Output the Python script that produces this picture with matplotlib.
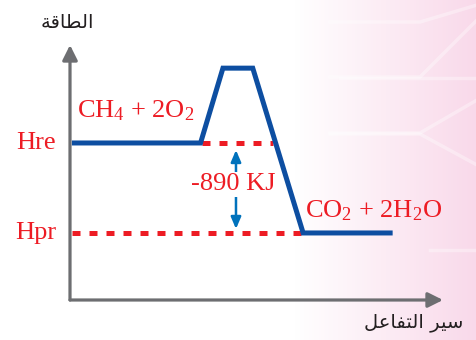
import matplotlib
matplotlib.use('Agg')
import matplotlib.pyplot as plt
import numpy as np

plt.rcParams['font.family'] = ['Liberation Serif', 'DejaVu Sans']
plt.rcParams['mathtext.fontset'] = 'custom'
plt.rcParams['mathtext.rm'] = 'Liberation Serif'
plt.rcParams['mathtext.it'] = 'Liberation Serif'

# 반응 경로 (진행도, 에너지 kJ)
progress = [0.05, 3.5, 4.1, 4.9, 6.25, 8.65]
energy = [0, 0, 740, 740, -890, -890]

H_re = 0
H_pr = -890
delta_H = H_pr - H_re
re_dash_x = [3.55, 5.45]
pr_dash_x = [0.05, 6.25]
arrow_x = 4.45

# 아랍어 레이블 (표시형 글자, 시각 순서)
y_label = '\ufe94\ufed7\ufe8e\ufec4\ufedf\ufe8d'
x_label = '\ufede\ufecb\ufe8e\ufed4\ufe98\ufedf\ufe8d \ufeae\ufef4\ufeb3'

RED = '#ed1c24'
BLUE = '#0d4ea1'
ARROW_BLUE = '#0072bc'
GRAY = '#6d6e71'

fig = plt.figure(figsize=(4.77, 3.40), dpi=100)

# 배경 (오른쪽 분홍 그라데이션)
bg = fig.add_axes([0, 0, 1, 1])
bg.set_xlim(0, 477)
bg.set_ylim(340, 0)
bg.axis('off')
grad = np.clip((np.linspace(0, 477, 477) - 295) / 182, 0, 1)
pink = np.array([249, 217, 234]) / 255
img = np.ones((1, 477, 3)) * (1 - grad[None, :, None]) + pink * grad[None, :, None]
bg.imshow(img, extent=[0, 477, 340, 0], aspect='auto')
for xs, ys in [([330, 420, 477], [22, 22, 5]),
               ([330, 420, 477], [77, 77, 20]),
               ([340, 477], [78, 78]),
               ([330, 420, 477], [133, 133, 100]),
               ([330, 420, 477], [134, 134, 165]),
               ([430, 477], [250, 250])]:
    bg.plot(xs, ys, color='white', lw=2.5, alpha=0.35)

ax = fig.add_axes([70 / 477, 40 / 340, 373 / 477, 255 / 340])
ax.set_xlim(0, 10)
ax.set_ylim(-1553, 969)
ax.axis('off')

# 축 화살표
arrow_kw = dict(arrowstyle='-|>,head_length=0.9,head_width=0.45',
                lw=2.3, color=GRAY, mutation_scale=10, shrinkA=0, shrinkB=0)
ax.annotate('', xy=(0, 1), xytext=(0, 0), xycoords='axes fraction',
            arrowprops=arrow_kw)
ax.annotate('', xy=(1, 0), xytext=(0, 0), xycoords='axes fraction',
            arrowprops=arrow_kw)

# 점선 (Hre, Hpr)
dash_kw = dict(color=RED, lw=3.6, dashes=(1.6, 1.8), solid_capstyle='butt',
               dash_capstyle='butt')
ax.plot(re_dash_x, [H_re, H_re], **dash_kw)
ax.plot(pr_dash_x, [H_pr, H_pr], **dash_kw)

# 반응 경로
ax.plot(progress, energy, color=BLUE, lw=3.6, solid_joinstyle='miter',
        solid_capstyle='butt')

# ΔH 화살표
ax.annotate('', xy=(arrow_x, H_re - 70), xytext=(arrow_x, H_pr + 40),
            arrowprops=dict(arrowstyle='<|-|>,head_length=0.7,head_width=0.3',
                            lw=1.8, color=ARROW_BLUE, mutation_scale=10,
                            shrinkA=0, shrinkB=0))
ax.text(arrow_x - 0.08, (H_re + H_pr) / 2 + 35, f'{delta_H} KJ', color=RED,
        fontsize=19, ha='center', va='center',
        bbox=dict(facecolor='white', edgecolor='none', pad=1))

# 레이블
ax.text(-0.38, H_re, 'Hre', color=RED, fontsize=19, ha='right', va='center',
        clip_on=False)
ax.text(-0.36, H_pr, 'Hpr', color=RED, fontsize=19, ha='right', va='center',
        clip_on=False)
ax.text(0.2, 250, r'CH$_4$ + 2O$_2$', color=RED, fontsize=19, ha='left',
        va='baseline')
ax.text(6.3, -740, r'CO$_2$ + 2H$_2$O', color=RED, fontsize=19, ha='left',
        va='baseline')

fig.text(67 / 477, 1 - 22 / 340, y_label, family='DejaVu Sans', fontsize=14,
         color='#231f20', ha='center', va='center')
fig.text(414 / 477, 1 - 322 / 340, x_label, family='DejaVu Sans', fontsize=14,
         color='#231f20', ha='center', va='center')

fig.savefig('out.png', dpi=100, facecolor='white')
